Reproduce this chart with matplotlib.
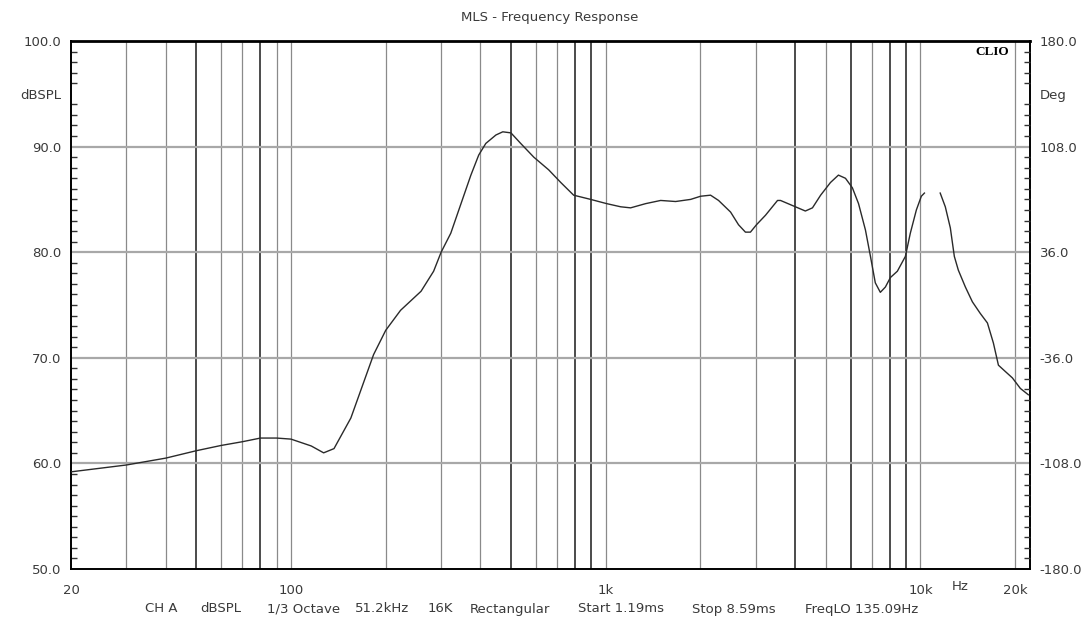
#!/usr/bin/env python3

# MLS frequency response plot in the style of a CLIO measurement sheet

import matplotlib
matplotlib.use('Agg')
import matplotlib.pyplot as plt     # for plotting
import numpy as np                  # for nan gaps

freq_hz = [20, 30, 40, 50, 60, 70, 80, 90, 100, 116, 127, 137, 155, 183,
           200, 223, 259, 284, 300, 322, 347, 373, 395, 416, 448, 471, 500,
           537, 591, 659, 720, 791, 896, 1007, 1116, 1200, 1340, 1495, 1668,
           1862, 2003, 2154, 2284, 2494, 2643, 2780, 2884, 3014, 3220, 3516,
           3594, 3865, 4310, 4540, 4820, 5180, 5490, 5780, 6080, 6360, 6690,
           6940, 7190, 7460, 7740, 8030, 8450, 8960, 9290, 9710, 10070, 10300,
           10900,
           11560, 12000, 12450, 12820, 13200, 13900, 14630, 15500, 16330,
           17060, 17700, 18620, 19600, 20780, 22030]
spl_db = [59.2, 59.85, 60.5, 61.2, 61.7, 62.05, 62.4, 62.4, 62.3, 61.65,
          61.0, 61.4, 64.3, 70.3, 72.6, 74.5, 76.3, 78.2, 80.0, 81.8, 84.6,
          87.3, 89.2, 90.3, 91.1, 91.4, 91.3, 90.3, 89.0, 87.8, 86.6, 85.4,
          85.0, 84.6, 84.3, 84.2, 84.6, 84.9, 84.8, 85.0, 85.3, 85.4, 84.9,
          83.8, 82.6, 81.9, 81.9, 82.6, 83.5, 84.9, 84.9, 84.5, 83.9, 84.2,
          85.4, 86.6, 87.3, 87.0, 86.1, 84.6, 82.1, 79.6, 77.1, 76.2, 76.7,
          77.6, 78.2, 79.6, 81.8, 84.0, 85.3, 85.6,
          np.nan,
          85.6, 84.3, 82.3, 79.6, 78.3, 76.7, 75.3, 74.2, 73.3, 71.4, 69.3,
          68.7, 68.1, 67.1, 66.5]

# grid frequencies, darker ones look heavier on the sheet
grid_light = [30, 40, 60, 70, 90, 100, 200, 300, 400, 600, 700, 1000, 2000,
              3000, 5000, 7000, 10000, 20000]
grid_dark = [50, 80, 500, 800, 900, 4000, 6000, 8000, 9000]
db_grid = [60, 70, 80, 90]

db_ticks = [50, 60, 70, 80, 90, 95, 100]
db_labels = ['50.0', '60.0', '70.0', '80.0', '90.0', 'dBSPL', '100.0']
deg_ticks = [-180, -108, -36, 36, 108, 144, 180]
deg_labels = ['-180.0', '-108.0', '-36.0', '36.0', '108.0', 'Deg', '180.0']
x_ticks = [20, 100, 1000, 10000, 20000]
x_labels = ['20', '100', '1k', '10k', '20k']

footer = ['CH A', 'dBSPL', '1/3 Octave', '51.2kHz', '16K', 'Rectangular',
          'Start 1.19ms', 'Stop 8.59ms', 'FreqLO 135.09Hz']
footer_x = [145, 200, 267, 355, 428, 470, 578, 692, 805]   # left edges, px

plt.rcParams['font.family'] = ['DejaVu Sans']
txt_col = '#3a3a3a'

fig = plt.figure(figsize=(10.88, 6.19), dpi=100)
ax = fig.add_axes([71/1088, 1 - 569/619, 959/1088, 528/619])

# grid
for f in grid_light:
    ax.axvline(f, color='#8a8a8a', lw=0.9, zorder=1)
for f in grid_dark:
    ax.axvline(f, color='#1a1a1a', lw=1.1, zorder=1)
for d in db_grid:
    ax.axhline(d, color='#a8a8a8', lw=1.6, zorder=1)

# response trace
ax.plot(freq_hz, spl_db, color='#2a2a2a', lw=1.0, zorder=3)

ax.set_xscale('log')
ax.set_xlim(20, 22300)
ax.set_ylim(50, 100)

ax.set_xticks(x_ticks)
ax.set_xticklabels(x_labels)
ax.xaxis.set_minor_locator(matplotlib.ticker.NullLocator())
ax.tick_params(axis='x', which='major', length=0, pad=11, labelsize=9.5,
               labelcolor=txt_col)

ax.set_yticks(db_ticks)
ax.set_yticklabels(db_labels)
ax.set_yticks(np.arange(50, 101, 1), minor=True)
ax.tick_params(axis='y', which='major', length=0, pad=7, labelsize=9.5,
               labelcolor=txt_col)
ax.tick_params(axis='y', which='minor', direction='in', length=4.5,
               width=1.0, color='#333333')

for s in ax.spines.values():
    s.set_color('black')
    s.set_linewidth(1.4)
ax.spines['top'].set_linewidth(2.0)

# phase axis on the right (no trace, only scale)
ax2 = ax.twinx()
ax2.set_ylim(-180, 180)
ax2.set_yticks(deg_ticks)
ax2.set_yticklabels(deg_labels)
ax2.set_yticks(np.arange(-180, 180.1, 7.2), minor=True)
ax2.tick_params(axis='y', which='major', length=0, pad=7, labelsize=9.5,
                labelcolor=txt_col)
ax2.tick_params(axis='y', which='minor', direction='in', length=4.5,
                width=1.0, color='#333333')
for s in ax2.spines.values():
    s.set_visible(False)

# labels
fig.text(550/1088, 1 - 18/619, 'MLS - Frequency Response', ha='center',
         va='center', fontsize=9.5, color=txt_col)
ax.text(0.978, 0.979, 'CLIO', transform=ax.transAxes, ha='right',
        va='center', fontsize=9.5, fontweight='bold',
        family='Liberation Serif', color='black')
ax.text((960 - 71)/959, -0.034, 'Hz', transform=ax.transAxes, ha='center',
        va='center', fontsize=9.5, color=txt_col)

for lab, px in zip(footer, footer_x):
    fig.text(px/1088, 1 - 609/619, lab, ha='left', va='center',
             fontsize=9.5, color=txt_col)

plt.savefig('out.png', dpi=100)
plt.close('all')
